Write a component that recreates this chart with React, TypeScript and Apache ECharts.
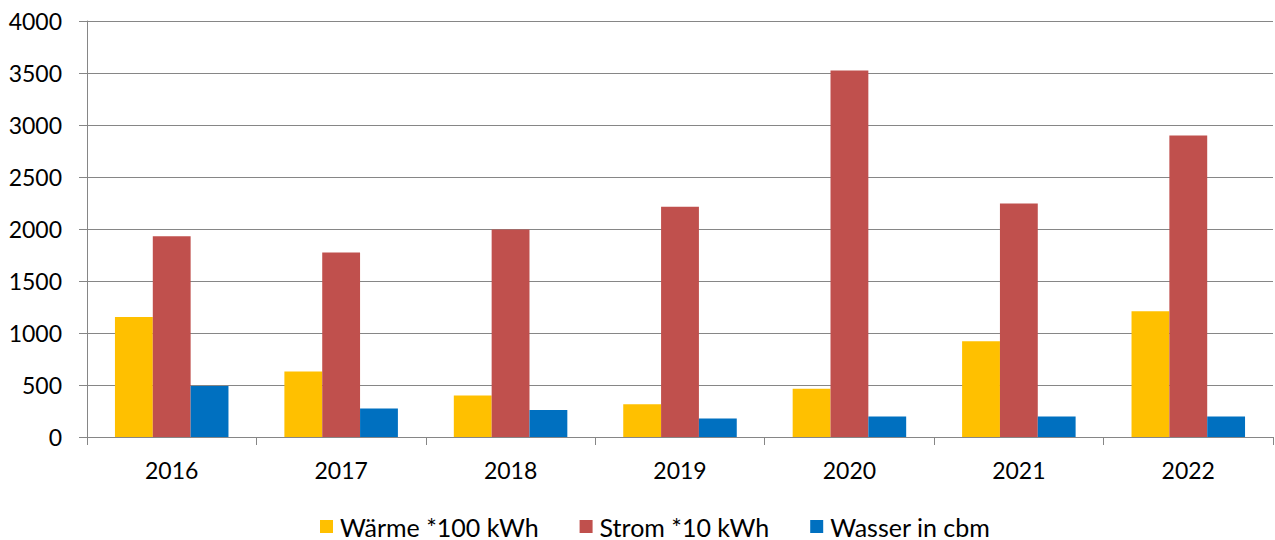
import React, { useEffect, useRef } from "react";
import * as echarts from "echarts";

const years = ["2016", "2017", "2018", "2019", "2020", "2021", "2022"];
const waerme = [1155, 630, 400, 315, 465, 920, 1210];
const strom = [1930, 1775, 1995, 2215, 3525, 2245, 2900];
const wasser = [490, 275, 260, 178, 198, 197, 197];
const seriesNames = ["Wärme *100 kWh", "Strom *10 kWh", "Wasser in cbm"];
const colors = ["#FFC000", "#C0504D", "#0070C0"];

export default function App() {
  const ref = useRef<HTMLDivElement>(null);
  useEffect(() => {
    if (!ref.current) return;
    const chart = echarts.init(ref.current, undefined, { renderer: "svg" });
    const font = "Lato, 'Liberation Sans', sans-serif";
    const grey = "#868686";
    chart.setOption({
      animation: false,
      backgroundColor: "#ffffff",
      grid: { left: 87, right: 2, top: 21, bottom: 103, containLabel: false },
      legend: {
        left: 320,
        top: 514,
        padding: 0,
        itemWidth: 13,
        itemHeight: 13,
        itemGap: 41,
        icon: "rect",
        textStyle: { fontFamily: font, fontSize: 25, color: "#000", padding: [0, 0, 0, 2] },
        data: seriesNames,
      },
      xAxis: {
        type: "category",
        data: years,
        axisLine: { show: true, lineStyle: { color: grey, width: 1 } },
        axisTick: { show: true, length: 8, lineStyle: { color: grey } },
        axisLabel: { fontFamily: font, fontSize: 23, color: "#000", margin: 21 },
      },
      yAxis: {
        type: "value",
        min: 0,
        max: 4000,
        interval: 500,
        axisLine: { show: true, lineStyle: { color: grey, width: 1 } },
        axisTick: { show: true, length: 8, lineStyle: { color: grey } },
        splitLine: { show: true, lineStyle: { color: grey, width: 1.2 } },
        axisLabel: {
          fontFamily: font,
          fontSize: 23,
          color: "#000",
          margin: 25,
          formatter: (v: number) => String(v),
        },
      },
      series: [waerme, strom, wasser].map((d, i) => ({
        name: seriesNames[i],
        type: "bar",
        data: d,
        barGap: "0%",
        barCategoryGap: "33%",
        itemStyle: { color: colors[i] },
      })),
    });
    return () => chart.dispose();
  }, []);
  return (
    <div
      ref={ref}
      style={{ position: "absolute", left: 0, top: 0, width: 1275, height: 540, background: "#fff" }}
    />
  );
}
